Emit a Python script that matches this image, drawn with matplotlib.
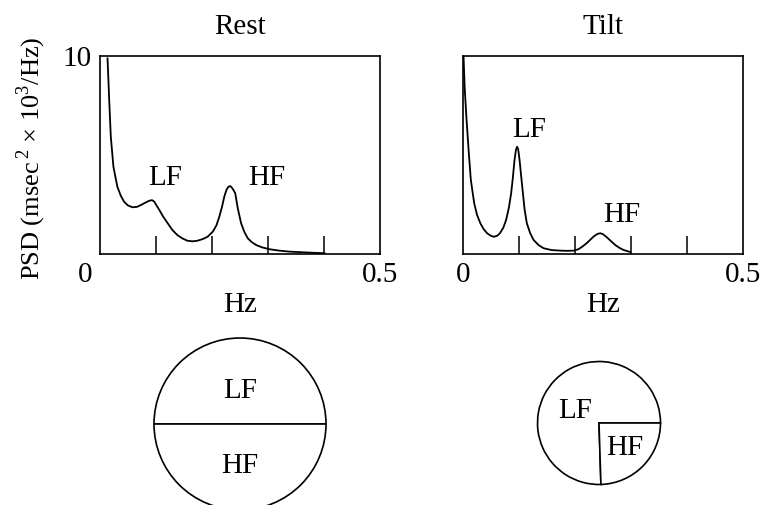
import matplotlib
matplotlib.use("Agg")
import matplotlib.pyplot as plt

plt.rcParams["font.family"] = ["Liberation Serif", "DejaVu Serif"]
plt.rcParams["mathtext.fontset"] = "custom"
plt.rcParams["mathtext.rm"] = "Liberation Serif"

# spectra: frequency (Hz) and PSD (msec^2 x 10^3/Hz)
rest_freq = [0.0134, 0.0150, 0.0164, 0.0193, 0.024, 0.031, 0.037, 0.043, 0.050, 0.058,
             0.066, 0.073, 0.080, 0.088, 0.093, 0.097, 0.101, 0.106, 0.113, 0.121,
             0.129, 0.138, 0.147, 0.156, 0.165, 0.174, 0.184, 0.192, 0.2015, 0.208,
             0.213, 0.218, 0.222, 0.226, 0.2295, 0.2325, 0.2355, 0.2385, 0.2415, 0.246,
             0.252, 0.258, 0.264, 0.271, 0.279, 0.290, 0.303, 0.320, 0.338, 0.374, 0.401]
rest_psd = [9.88, 8.8, 7.8, 5.92, 4.4, 3.4, 2.95, 2.64, 2.45, 2.36,
            2.38, 2.47, 2.58, 2.69, 2.72, 2.64, 2.45, 2.22, 1.88, 1.55,
            1.22, 0.96, 0.79, 0.67, 0.64, 0.67, 0.76, 0.87, 1.13, 1.45,
            1.88, 2.4, 2.9, 3.25, 3.4, 3.43, 3.35, 3.22, 3.07, 2.31,
            1.55, 1.1, 0.79, 0.6, 0.45, 0.33, 0.24, 0.17, 0.12, 0.07, 0.04]

tilt_freq = [0.001, 0.003, 0.006, 0.010, 0.014, 0.020, 0.025, 0.031, 0.037, 0.043,
             0.049, 0.055, 0.061, 0.066, 0.072, 0.077, 0.082, 0.086, 0.089, 0.092,
             0.0945, 0.0965, 0.0985, 0.101, 0.104, 0.107, 0.110, 0.114, 0.120, 0.126,
             0.135, 0.144, 0.158, 0.174, 0.186, 0.198, 0.206, 0.213, 0.221, 0.228,
             0.234, 0.240, 0.245, 0.250, 0.257, 0.265, 0.272, 0.280, 0.287, 0.299]
tilt_psd = [9.96, 8.4, 6.93, 5.25, 3.74, 2.56, 1.98, 1.55, 1.25, 1.05,
            0.93, 0.87, 0.92, 1.05, 1.33, 1.72, 2.35, 3.07, 3.85, 4.75,
            5.25, 5.42, 5.3, 4.75, 3.9, 3.07, 2.25, 1.55, 1.05, 0.71,
            0.45, 0.29, 0.2, 0.17, 0.16, 0.17, 0.24, 0.37, 0.55, 0.74,
            0.9, 1.01, 1.05, 1.0, 0.84, 0.63, 0.45, 0.3, 0.2, 0.1]

# LF / HF share of power and relative circle size (total power)
rest_share = [50, 50]
tilt_share = [75.5, 24.5]
rest_radius = 1.0
tilt_radius = 0.715

FS = 21
W, H = 763, 505


def px_box(left, top, width, height):
    return [left / W, (H - top - height) / H, width / W, height / H]


def spectrum_panel(ax, freq, psd, title, peaks, show_y):
    ax.plot(freq, psd, color="black", lw=1.3, solid_joinstyle="round")
    ax.set_xlim(0, 0.5)
    ax.set_ylim(0, 10)
    for s in ax.spines.values():
        s.set_linewidth(1.2)
    ax.set_xticks([0, 0.5])
    ax.set_xticklabels(["" if show_y else "0", "0.5"], fontsize=FS)
    ax.set_xticks([0.1, 0.2, 0.3, 0.4], minor=True)
    ax.tick_params(axis="x", which="major", length=0, pad=6)
    ax.tick_params(axis="x", which="minor", direction="in", length=13, width=1.1)
    if show_y:
        ax.set_yticks([10])
        ax.set_yticklabels(["10"], fontsize=FS)
        ax.tick_params(axis="y", length=0, pad=6)
        ax.annotate("0", xy=(0, 0), xytext=(-11, -6), textcoords="offset points",
                    ha="center", va="top", fontsize=FS)
    else:
        ax.set_yticks([])
    ax.set_title(title, fontsize=FS, pad=16)
    ax.set_xlabel("Hz", fontsize=FS, labelpad=3)
    for name, (x, y) in peaks.items():
        ax.text(x, y, name, ha="center", va="baseline", fontsize=FS)


def pie_panel(ax, share, radius, labels):
    ax.pie(share, radius=radius, startangle=0, counterclock=True,
           colors=["white", "white"],
           wedgeprops=dict(edgecolor="black", linewidth=1.2))
    lim = 100 / 86
    ax.set_xlim(-lim, lim)
    ax.set_ylim(-lim, lim)
    ax.set_aspect("equal")
    ax.axis("off")
    for name, (x, y) in labels.items():
        ax.text(x, y, name, ha="center", va="baseline", fontsize=FS)


fig = plt.figure(figsize=(W / 100, H / 100), dpi=100)

ax_rest = fig.add_axes(px_box(100, 56, 280, 198))
ax_tilt = fig.add_axes(px_box(463, 56, 280, 198))
spectrum_panel(ax_rest, rest_freq, rest_psd, "Rest",
               {"LF": (0.117, 3.48), "HF": (0.297, 3.48)}, True)
spectrum_panel(ax_tilt, tilt_freq, tilt_psd, "Tilt",
               {"LF": (0.118, 5.9), "HF": (0.283, 1.62)}, False)

fig.text(31 / W, 1 - 158 / H, r"PSD (msec$^{\,2}$ × 10$^{3}$/Hz)", rotation=90,
         ha="center", va="center", fontsize=19)

pie_rest = fig.add_axes(px_box(140, 324, 200, 200))
pie_tilt = fig.add_axes(px_box(499, 323, 200, 200))
pie_panel(pie_rest, rest_share, rest_radius, {"LF": (0, 0.30), "HF": (0, -0.57)})
pie_panel(pie_tilt, tilt_share, tilt_radius, {"LF": (-0.28, 0.06), "HF": (0.30, -0.37)})

fig.savefig("out.png", dpi=100)
